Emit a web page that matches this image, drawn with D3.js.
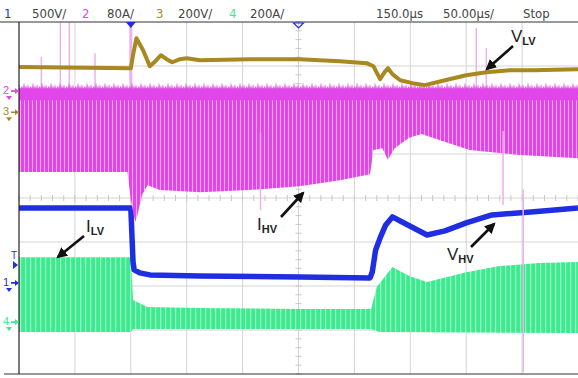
<!DOCTYPE html>
<html>
<head>
<meta charset="utf-8">
<script src="https://cdn.jsdelivr.net/npm/d3@7"></script>
<style>
  body { margin: 0; background: #fff; }
  svg { display: block; }
</style>
</head>
<body>
<script>
var vLV = [[-100,205],[0,200],[2,259],[5,336],[11,282],[17,209],[22,232],[27,259],[32,241],
           [37,227],[44,241],[50,245],[62,236],[106,241],[151,241],[187,232],[211,223],[217,209],
           [223,150],[227,182],[230,200],[234,173],[241,145],[252,132],[263,123],[281,145],
           [300,168],[318,182],[339,191],[360,191],[400,195]];

var vHV = [[-100,852],[0,852],[2,239],[3,148],[8,114],[17,91],[62,80],[151,68],[214,57],
           [216,125],[219,375],[223,511],[228,659],[234,750],[241,704],[265,545],[281,591],
           [300,682],[323,773],[358,807],[400,852]];

// switching currents: upper and lower envelope of the band
var iLVTop = [[-100,295],[0,295],[2,100],[8,86],[15,68],[62,64],[151,59],[215,59],[217,100],
              [220,159],[234,250],[249,209],[265,182],[283,205],[300,227],[330,255],[365,268],[400,273]];
var iLVBottom = [[-100,-45],[0,-45],[2,-32],[215,-32],[222,-45],[400,-50]];

var iHVTop = [[-100,5],[0,5],[400,5]];
var iHVBottom = [[-100,-147],[-3,-147],[0,-198],[4,-238],[6,-225],[10,-189],[15,-171],[26,-180],
                 [62,-184],[106,-180],[151,-173],[187,-162],[214,-151],[217,-107],[225,-104],
                 [230,-125],[236,-104],[249,-85],[260,-78],[276,-89],[303,-107],[348,-116],[400,-122]];

// isolated ringing spikes on I_HV: [time, peak value]
var iHVSpikesUp = [[-80,62],[-63,125],[-55,125],[-32,69],[0,125],[309,115],[318,78]];
var iHVSpikesDown = [[116,-216],[333,-207],[351,-511]];

// channel settings (units per div, ground marker position in div)
var ch1 = {scale: 500, pos: -1.93, color: "#1f2ee0"};
var ch2 = {scale: 80,  pos: 2.43,  color: "#e046e8"};
var ch3 = {scale: 200, pos: 1.95,  color: "#a8891f"};
var ch4 = {scale: 200, pos: -2.82, color: "#3ceb8f"};

var width = 578, height = 378;

var svg = d3.select("body").append("svg")
  .attr("width", width)
  .attr("height", height)
  .style("font-family", "'Liberation Sans', Arial, sans-serif");

// 50 us/div, 10 div, trigger 2 div from the left edge
var x = d3.scaleLinear().domain([-100, 400]).range([19, 578]);
var yDiv = d3.scaleLinear().domain([-4, 4]).range([374, 22]);

function yOf(ch) {
  return function(v) { return yDiv(ch.pos + v / ch.scale); };
}

function linePath(ch, curve) {
  var y = yOf(ch);
  return d3.line()
    .x(function(d) { return x(d[0]); })
    .y(function(d) { return y(d[1]); })
    .curve(curve || d3.curveLinear);
}

function bandPath(ch, top, bottom) {
  return linePath(ch)(top.concat(bottom.slice().reverse())) + "Z";
}

// patterns for the switching bands
var defs = svg.append("defs");

var pm = defs.append("pattern").attr("id", "magStripes")
  .attr("patternUnits", "userSpaceOnUse").attr("width", 4).attr("height", 10);
pm.append("rect").attr("width", 4).attr("height", 10).attr("fill", ch2.color);
pm.append("rect").attr("x", 0).attr("width", 1).attr("height", 10).attr("fill", "#f0a8f4");

var pg = defs.append("pattern").attr("id", "grnStripes")
  .attr("patternUnits", "userSpaceOnUse").attr("width", 5).attr("height", 10);
pg.append("rect").attr("width", 5).attr("height", 10).attr("fill", ch4.color);
pg.append("rect").attr("x", 0).attr("width", 1.2).attr("height", 10).attr("fill", "#9af4c4");

var pf = defs.append("pattern").attr("id", "magFringe")
  .attr("patternUnits", "userSpaceOnUse").attr("width", 9).attr("height", 8)
  .attr("y", 81);
pf.append("path").attr("d", "M0,8 L1,3 L2,8 L4,5 L5,8 L6,1 L7,8 L8,4 L9,8 Z")
  .attr("fill", ch2.color);

// grid
var grid = svg.append("g");
grid.selectAll("line.v")
  .data(d3.range(-50, 400, 50))
  .enter().append("line")
    .attr("x1", function(d) { return x(d); })
    .attr("x2", function(d) { return x(d); })
    .attr("y1", yDiv(4)).attr("y2", yDiv(-4))
    .attr("stroke", "#d4d4d4").attr("stroke-width", 1);
grid.selectAll("line.h")
  .data(d3.range(-3, 4, 1))
  .enter().append("line")
    .attr("x1", x(-100)).attr("x2", x(400))
    .attr("y1", function(d) { return yDiv(d); })
    .attr("y2", function(d) { return yDiv(d); })
    .attr("stroke", "#d4d4d4").attr("stroke-width", 1);
// minor ticks on the centre lines
grid.selectAll("line.ty")
  .data(d3.range(-4, 4.01, 0.2))
  .enter().append("line")
    .attr("x1", x(150) - 3).attr("x2", x(150) + 3)
    .attr("y1", function(d) { return yDiv(d); })
    .attr("y2", function(d) { return yDiv(d); })
    .attr("stroke", "#c8c8c8");
grid.selectAll("line.tx")
  .data(d3.range(-100, 401, 10))
  .enter().append("line")
    .attr("x1", function(d) { return x(d); })
    .attr("x2", function(d) { return x(d); })
    .attr("y1", yDiv(0) - 3).attr("y2", yDiv(0) + 3)
    .attr("stroke", "#c8c8c8");

// I_LV band
svg.append("path")
  .attr("d", bandPath(ch4, iLVTop, iLVBottom))
  .attr("fill", "url(#grnStripes)");

// V_HV
svg.append("path")
  .attr("d", linePath(ch1)(vHV))
  .attr("fill", "none")
  .attr("stroke", ch1.color)
  .attr("stroke-width", 5.5)
  .attr("stroke-linejoin", "round");

// I_HV band
var y2 = yOf(ch2);
svg.selectAll("line.spk")
  .data(iHVSpikesUp)
  .enter().append("line")
    .attr("x1", function(d) { return x(d[0]); })
    .attr("x2", function(d) { return x(d[0]); })
    .attr("y1", function(d) { return y2(d[1]); })
    .attr("y2", y2(0))
    .attr("stroke", "#eeb0f0").attr("stroke-width", function(d, i) { return i === 4 ? 3 : 1.5; });
svg.append("path")
  .attr("d", bandPath(ch2, iHVTop, iHVBottom))
  .attr("fill", "url(#magStripes)");
svg.append("rect")
  .attr("x", x(-100)).attr("width", x(400) - x(-100))
  .attr("y", y2(iHVTop[0][1]) - 7).attr("height", 7)
  .attr("fill", "url(#magFringe)");
svg.append("rect")
  .attr("x", x(-100)).attr("width", x(400) - x(-100))
  .attr("y", y2(iHVTop[0][1])).attr("height", 12)
  .attr("fill", ch2.color);
svg.selectAll("line.spkd")
  .data(iHVSpikesDown)
  .enter().append("line")
    .attr("x1", function(d) { return x(d[0]); })
    .attr("x2", function(d) { return x(d[0]); })
    .attr("y1", function(d) { return y2(d[1] * 0.35); })
    .attr("y2", function(d) { return y2(d[1]); })
    .attr("stroke", "#eeb0f0").attr("stroke-width", 1.5);

// V_LV
svg.append("path")
  .attr("d", linePath(ch3)(vLV))
  .attr("fill", "none")
  .attr("stroke", ch3.color)
  .attr("stroke-width", 4)
  .attr("stroke-linejoin", "round");

// annotations
defs.append("marker").attr("id", "head")
  .attr("viewBox", "0 0 10 10").attr("refX", 8).attr("refY", 5)
  .attr("markerWidth", 4.2).attr("markerHeight", 4.2)
  .attr("orient", "auto")
  .append("path").attr("d", "M0,0 L10,5 L0,10 Z").attr("fill", "#111");

var notes = [
  {main: "V", sub: "LV", x: 511, y: 42, from: [513, 46], to: [487, 69]},
  {main: "I", sub: "HV", x: 257, y: 230, from: [281, 217], to: [303, 193]},
  {main: "I", sub: "LV", x: 86, y: 232, from: [84, 236], to: [58, 257]},
  {main: "V", sub: "HV", x: 447, y: 260, from: [471, 247], to: [494, 224]}
];
var ng = svg.append("g");
notes.forEach(function(n) {
  ng.append("line")
    .attr("x1", n.from[0]).attr("y1", n.from[1])
    .attr("x2", n.to[0]).attr("y2", n.to[1])
    .attr("stroke", "#111").attr("stroke-width", 2.6)
    .attr("marker-end", "url(#head)");
  var t = ng.append("text").attr("x", n.x).attr("y", n.y)
    .attr("fill", "#222").style("font-size", "17px");
  t.append("tspan").text(n.main);
  t.append("tspan").attr("dy", 3).style("font-size", "11px").style("font-weight", "bold").text(n.sub);
});

// header
var header = [
  {text: "1", x: 4, color: ch1.color},
  {text: "500V/", x: 32, color: "#444"},
  {text: "2", x: 82, color: ch2.color},
  {text: "80A/", x: 107, color: "#444"},
  {text: "3", x: 156, color: ch3.color},
  {text: "200V/", x: 178, color: "#444"},
  {text: "4", x: 229, color: ch4.color},
  {text: "200A/", x: 250, color: "#444"},
  {text: "150.0\u00b5s", x: 376, color: "#444"},
  {text: "50.00\u00b5s/", x: 443, color: "#444"},
  {text: "Stop", x: 523, color: "#444"}
];
svg.selectAll("text.hd")
  .data(header)
  .enter().append("text")
    .attr("x", function(d) { return d.x; })
    .attr("y", 18)
    .attr("fill", function(d) { return d.color; })
    .style("font-family", "'Liberation Sans Narrow', 'DejaVu Sans Condensed', sans-serif")
    .style("font-size", "13px")
    .text(function(d) { return d.text; });

// frame
svg.append("line").attr("x1", 0).attr("x2", width).attr("y1", 22).attr("y2", 22)
  .attr("stroke", "#333").attr("stroke-width", 1.2);
svg.append("line").attr("x1", 4).attr("x2", width).attr("y1", 374).attr("y2", 374)
  .attr("stroke", "#333").attr("stroke-width", 1.2);
svg.append("line").attr("x1", 19).attr("x2", 19).attr("y1", 22).attr("y2", 374)
  .attr("stroke", "#222").attr("stroke-width", 1.2);

// trigger position and time reference markers
svg.append("path")
  .attr("d", "M" + (x(0) - 5) + ",22 L" + (x(0) + 5) + ",22 L" + x(0) + ",28 Z")
  .attr("fill", ch1.color);
svg.append("path")
  .attr("d", "M" + (x(150) - 5) + ",23 L" + (x(150) + 5) + ",23 L" + x(150) + ",28 Z")
  .attr("fill", "none").attr("stroke", ch1.color).attr("stroke-width", 1.2);

// channel ground markers on the left
var markers = [
  {label: "2", ch: ch2, y: yDiv(ch2.pos)},
  {label: "3", ch: ch3, y: yDiv(ch3.pos)},
  {label: "1", ch: ch1, y: yDiv(ch1.pos)},
  {label: "4", ch: ch4, y: yDiv(ch4.pos)}
];
markers.forEach(function(m) {
  svg.append("text").attr("x", 3).attr("y", m.y + 3)
    .attr("fill", m.ch.color).style("font-size", "11px").text(m.label);
  svg.append("path")
    .attr("d", "M11," + (m.y - 0.8) + " L15," + (m.y - 0.8) + " L15," + (m.y - 3) +
          " L19," + m.y + " L15," + (m.y + 3) + " L15," + (m.y + 0.8) + " L11," + (m.y + 0.8) + "Z")
    .attr("fill", m.ch.color);
  svg.append("path")
    .attr("d", "M6," + (m.y + 5) + " L12," + (m.y + 5) + " L9," + (m.y + 9) + "Z")
    .attr("fill", m.ch.color);
});
// trigger level marker
svg.append("text").attr("x", 11).attr("y", 259)
  .attr("fill", ch1.color).style("font-size", "10px").text("T");
svg.append("path").attr("d", "M13,261 L18,265 L13,269 Z").attr("fill", ch1.color);
</script>
</body>
</html>
